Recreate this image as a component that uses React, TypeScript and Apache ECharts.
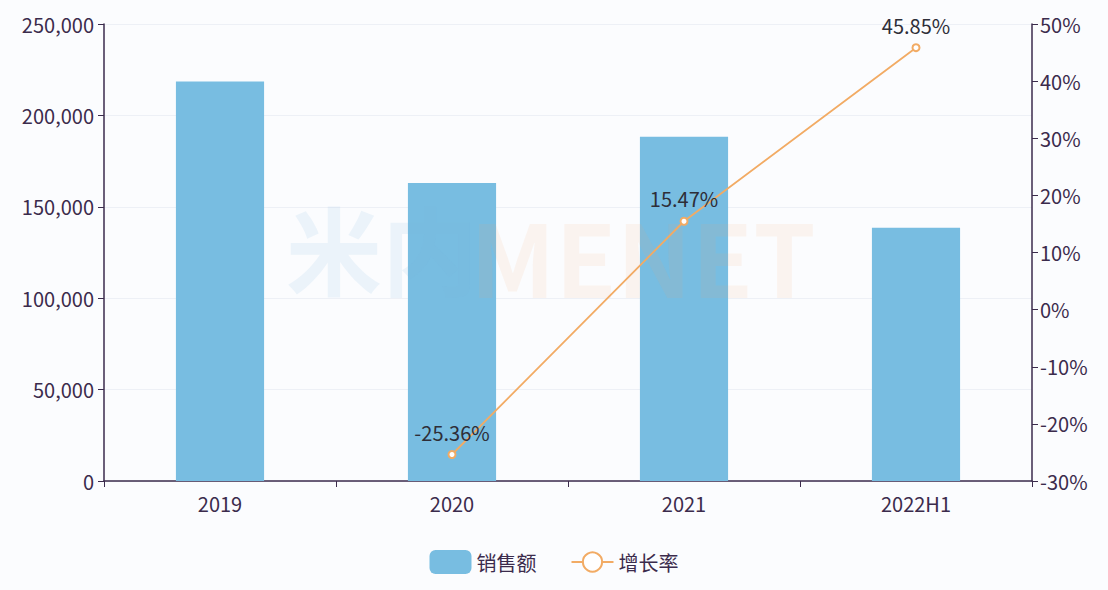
import React, { useEffect, useRef } from "react";
import * as echarts from "echarts";

const categories = ["2019", "2020", "2021", "2022H1"];
const sales = [218500, 163000, 188300, 138500];
const growth: (number | null)[] = [null, -25.36, 15.47, 45.85];
const leftTicks = [0, 50000, 100000, 150000, 200000, 250000];
const rightTicks = [-30, -20, -10, 0, 10, 20, 30, 40, 50];

const TEXT = "#3b2b4c";
const FONT = "'Noto Sans CJK SC', 'Noto Sans', sans-serif";
const FS = 20;

export default function App() {
  const ref = useRef<HTMLDivElement>(null);
  useEffect(() => {
    document.body.style.margin = "0";
    if (!ref.current) return;
    const chart = echarts.init(ref.current, undefined, { renderer: "svg" });
    chart.setOption({
      animation: false,
      backgroundColor: "#fbfcfe",
      textStyle: { fontFamily: FONT },
      graphic: [
        {
          type: "text",
          left: 286,
          top: 198,
          silent: true,
          z: 10,
          style: {
            text: "米内",
            fontSize: 96,
            fontWeight: "bold",
            fontFamily: FONT,
            fill: "rgba(120,180,220,0.12)",
          },
        },
        {
          type: "text",
          left: 470,
          top: 204,
          silent: true,
          z: 10,
          style: {
            text: "MENET",
            fontSize: 100,
            fontWeight: "bold",
            fontFamily: FONT,
            fill: "rgba(245,170,110,0.10)",
          },
        },
      ],
      legend: {
        bottom: 11,
        left: "center",
        itemGap: 34,
        itemWidth: 42,
        itemHeight: 24,
        textStyle: { color: TEXT, fontSize: FS, fontFamily: FONT },
        data: [
          { name: "销售额", itemStyle: { borderRadius: 4 } },
          { name: "增长率" },
        ],
      },
      grid: { left: 104, right: 76, top: 24, bottom: 109 },
      xAxis: {
        type: "category",
        data: categories,
        axisLine: { lineStyle: { color: TEXT, width: 1.5 } },
        axisTick: { show: true, length: 6, lineStyle: { color: TEXT } },
        axisLabel: { color: TEXT, fontSize: FS, margin: 12 },
      },
      yAxis: [
        {
          type: "value",
          min: 0,
          max: 250000,
          interval: 50000,
          axisLine: { show: true, lineStyle: { color: TEXT, width: 1.5 } },
          axisTick: { show: true, length: 6, lineStyle: { color: TEXT } },
          axisLabel: {
            color: TEXT,
            fontSize: FS,
            margin: 10,
            formatter: (v: number) =>
              leftTicks.includes(v) ? v.toLocaleString("en-US") : "",
          },
          splitLine: { show: true, lineStyle: { color: "#edf0f6" } },
        },
        {
          type: "value",
          min: -30,
          max: 50,
          interval: 10,
          axisLine: { show: true, lineStyle: { color: TEXT, width: 1.5 } },
          axisTick: { show: true, length: 6, lineStyle: { color: TEXT } },
          axisLabel: {
            color: TEXT,
            fontSize: FS,
            margin: 8,
            formatter: (v: number) => (rightTicks.includes(v) ? v + "%" : ""),
          },
          splitLine: { show: false },
        },
      ],
      series: [
        {
          name: "销售额",
          type: "bar",
          data: sales,
          barWidth: "38%",
          itemStyle: { color: "#78bde1" },
        },
        {
          name: "增长率",
          type: "line",
          yAxisIndex: 1,
          data: growth,
          symbol: "emptyCircle",
          symbolSize: 7,
          itemStyle: { color: "#f2ab64", borderWidth: 1.5 },
          lineStyle: { color: "#f2ab64", width: 1.8 },
          label: {
            show: true,
            position: "top",
            distance: 8,
            color: "#2e2e38",
            fontSize: FS,
            formatter: (p: any) => p.value.toFixed(2) + "%",
          },
        },
      ],
    });
    return () => chart.dispose();
  }, []);
  return <div ref={ref} style={{ width: 1108, height: 590 }} />;
}
